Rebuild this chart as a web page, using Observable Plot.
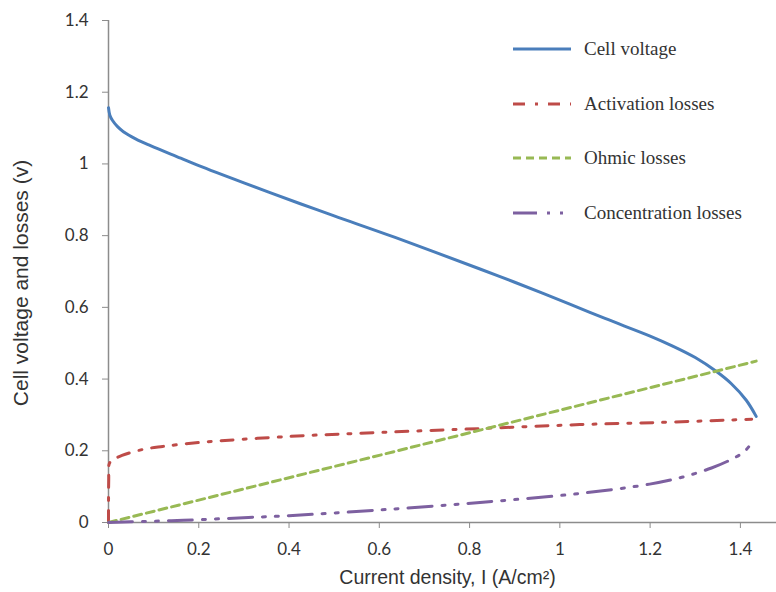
<!DOCTYPE html>
<html>
<head>
<meta charset="utf-8">
<script src="https://cdn.jsdelivr.net/npm/d3@7"></script>
<script src="https://cdn.jsdelivr.net/npm/@observablehq/plot@0.6"></script>
<style>
  html, body { margin: 0; padding: 0; background: #fff; }
  #wrap { position: relative; width: 776px; height: 592px; }
  #legend { position: absolute; left: 0; top: 0; width: 776px; height: 592px; pointer-events: none; }
  .item { position: absolute; left: 513px; height: 24px; display: flex; align-items: center; }
  .item span { margin-left: 13px; font-family: "Liberation Serif", "Times New Roman", serif; font-size: 19px; color: #333; white-space: nowrap; }
  #ylabel { position: absolute; left: 21px; top: 283px; transform: translate(-50%, -50%) rotate(-90deg); white-space: nowrap;
            font-family: "Liberation Sans", Arial, sans-serif; font-size: 21px; color: #333; }
</style>
</head>
<body>
<div id="wrap"><div id="legend"></div><div id="ylabel"></div></div>
<script>
// ---- data ----
const seriesNames = ["Cell voltage", "Activation losses", "Ohmic losses", "Concentration losses"];
const xTicks = [0, 0.2, 0.4, 0.6, 0.8, 1, 1.2, 1.4];
const yTicks = [0, 0.2, 0.4, 0.6, 0.8, 1, 1.2, 1.4];

const cellI = [0, 0.003, 0.009, 0.02, 0.033, 0.06, 0.093, 0.16, 0.2, 0.3, 0.425, 0.5, 0.635, 0.823, 0.9, 1.022, 1.1, 1.2, 1.25, 1.3, 1.347, 1.38, 1.413, 1.435];
const cellV = [1.157, 1.136, 1.121, 1.104, 1.09, 1.07, 1.051, 1.016, 0.995, 0.947, 0.889, 0.855, 0.795, 0.707, 0.67, 0.609, 0.569, 0.52, 0.492, 0.46, 0.421, 0.387, 0.341, 0.296];

const actI = [0, 0.0005, 0.002, 0.01, 0.03, 0.077, 0.12, 0.2, 0.4, 0.6, 0.823, 1.044, 1.221, 1.425];
const actV = [0, 0.12, 0.165, 0.175, 0.187, 0.204, 0.212, 0.223, 0.24, 0.251, 0.262, 0.273, 0.279, 0.288];

const ohmI = [0, 0.602, 1.435];
const ohmV = [0, 0.188, 0.45];

const concI = [0, 0.05, 0.166, 0.31, 0.4, 0.602, 0.823, 1.044, 1.199, 1.27, 1.336, 1.383, 1.409, 1.425];
const concV = [0, 0.002, 0.006, 0.014, 0.019, 0.035, 0.056, 0.081, 0.107, 0.126, 0.152, 0.178, 0.198, 0.222];

const xLabel = "Current density, I (A/cm²)";
const yLabel = "Cell voltage and losses (v)";

// ---- styles ----
const colors = ["#4a7ebb", "#be4b48", "#98b954", "#7d60a0"];
const dashes = [null, "12,10,3,10", "8,5", "24,10,3,10,3,10"];

const zip = (xs, ys) => xs.map((x, i) => ({x, y: ys[i]}));
const sets = [zip(cellI, cellV), zip(actI, actV), zip(ohmI, ohmV), zip(concI, concV)];

const axisGray = "#8c8c8c";

const plot = Plot.plot({
  width: 776,
  height: 592,
  marginLeft: 108,
  marginRight: 0,
  marginTop: 20,
  marginBottom: 70,
  style: {fontFamily: "Lato, 'Open Sans', sans-serif", fontSize: "17px", background: "#fff", overflow: "visible"},
  x: {domain: [0, 1.48]},
  y: {domain: [0, 1.4]},
  marks: [
    Plot.ruleX([0], {stroke: axisGray, strokeWidth: 1.5}),
    Plot.ruleY([0], {stroke: axisGray, strokeWidth: 1.5}),
    Plot.axisX({ticks: xTicks, tickFormat: d => String(d), tickSize: 6, tickPadding: 14, stroke: axisGray, fill: "#333", fontSize: 17, label: null}),
    Plot.axisY({ticks: yTicks, tickFormat: d => String(d), tickSize: 6, tickPadding: 14, stroke: axisGray, fill: "#333", fontSize: 17, label: null}),
    ...sets.map((d, i) => Plot.line(d, {
      x: "x", y: "y",
      stroke: colors[i],
      strokeWidth: 3,
      strokeDasharray: dashes[i] ?? undefined,
      curve: i === 2 ? "linear" : "catmull-rom"
    })),
    Plot.text([xLabel], {frameAnchor: "bottom", dx: 5, dy: 61, text: d => d, fontSize: 19.5, fill: "#333", fontFamily: "'Liberation Sans', Arial, sans-serif"})
  ]
});
document.getElementById("wrap").prepend(plot);
document.getElementById("ylabel").textContent = yLabel;

// ---- legend ----
const legend = document.getElementById("legend");
const legendY = [49, 104, 158, 213];
seriesNames.forEach((name, i) => {
  const item = document.createElement("div");
  item.className = "item";
  item.style.top = (legendY[i] - 12) + "px";
  const svg = d3.create("svg").attr("width", 58).attr("height", 24);
  svg.append("line").attr("x1", 0).attr("x2", 58).attr("y1", 12).attr("y2", 12)
    .attr("stroke", colors[i]).attr("stroke-width", 3)
    .attr("stroke-dasharray", dashes[i]);
  item.appendChild(svg.node());
  const span = document.createElement("span");
  span.textContent = name;
  item.appendChild(span);
  legend.appendChild(item);
});
</script>
</body>
</html>
